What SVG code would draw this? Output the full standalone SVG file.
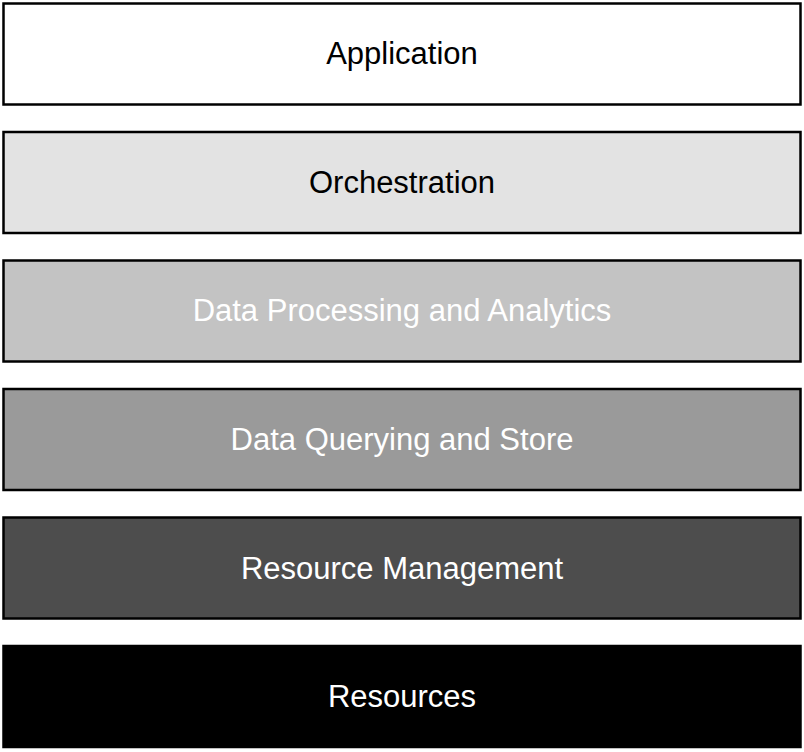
<svg xmlns="http://www.w3.org/2000/svg" width="804" height="752" viewBox="0 0 804 752">
<style>
.box{stroke:#000;stroke-width:2.5}
.t{font-family:"Liberation Sans",Arial,sans-serif;font-size:31px;text-anchor:middle;dominant-baseline:central}
.dark{fill:#000}
.light{fill:#fff}
</style>
<rect width="804" height="752" fill="#fff"/>
<g id="application"><rect class="box" x="3.5" y="3.5" width="797" height="101" fill="#ffffff"/><text class="t dark" x="402" y="53">Application</text></g>
<g id="orchestration"><rect class="box" x="3.5" y="132" width="797" height="101" fill="#e3e3e3"/><text class="t dark" x="402" y="182">Orchestration</text></g>
<g id="data-processing"><rect class="box" x="3.5" y="260.5" width="797" height="101" fill="#c3c3c3"/><text class="t light" x="402" y="310">Data Processing and Analytics</text></g>
<g id="data-querying"><rect class="box" x="3.5" y="389" width="797" height="101" fill="#9a9a9a"/><text class="t light" x="402" y="439">Data Querying and Store</text></g>
<g id="resource-management"><rect class="box" x="3.5" y="517.5" width="797" height="101" fill="#4d4d4d"/><text class="t light" x="402" y="568">Resource Management</text></g>
<g id="resources"><rect class="box" x="3.5" y="646" width="797" height="101" fill="#000000"/><text class="t light" x="402" y="696">Resources</text></g>
<g id="connectors"></g>
</svg>
